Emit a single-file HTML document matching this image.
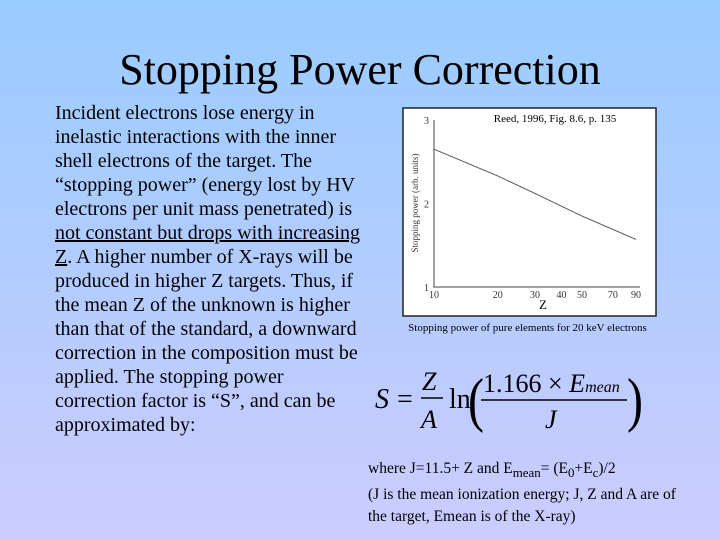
<!DOCTYPE html>
<html><head><meta charset="utf-8"><style>
body{margin:0;width:720px;height:540px;overflow:hidden;background:linear-gradient(#99ccff,#ccccff);font-family:"Liberation Serif",serif;position:relative}
.t{position:absolute;left:0;width:720px;top:44px;text-align:center;font-size:44px;line-height:52px;color:#000}
.b{position:absolute;left:55px;top:101px;width:330px;font-size:20px;line-height:24px;color:#000;white-space:nowrap}
.u{text-decoration:underline}
.cap{position:absolute;left:380px;width:295px;top:322px;font-size:11px;text-align:center}
.w{position:absolute;left:368px;top:458px;font-size:15.5px;line-height:22px;width:350px;white-space:nowrap}
</style></head><body>
<div class="t">Stopping Power Correction</div>
<div class="b">Incident electrons lose energy in<br>inelastic interactions with the inner<br>shell electrons of the target. The<br>“stopping power” (energy lost by HV<br>electrons per unit mass penetrated) is<br><span class="u">not constant but drops with increasing</span><br><span class="u">Z</span>. A higher number of X-rays will be<br>produced in higher Z targets. Thus, if<br>the mean Z of the unknown is higher<br>than that of the standard, a downward<br>correction in the composition must be<br>applied. The stopping power<br>correction factor is “S”, and can be<br>approximated by:</div>
<svg id="chart" style="position:absolute;left:0;top:0" width="720" height="540"></svg>
<div class="cap">Stopping power of pure elements for 20 keV electrons</div>
<svg style="position:absolute;left:365px;top:362px" width="340" height="72" font-family="Liberation Serif">
<text x="10" y="46" font-size="28" font-style="italic">S</text><text x="32" y="46" font-size="28">=</text>
<text x="57" y="28" font-size="26" font-style="italic">Z</text><line x1="56" y1="36" x2="78" y2="36" stroke="#000" stroke-width="1.5"/><text x="56" y="66" font-size="26" font-style="italic">A</text>
<text x="84" y="46" font-size="28">ln</text><text x="103" y="58" font-size="60" transform="scale(0.8,1)" transform-origin="103 46">(</text>
<text x="118" y="30" font-size="26">1.166 × <tspan font-style="italic">E</tspan><tspan font-size="16" font-style="italic">mean</tspan></text>
<line x1="116" y1="38" x2="262" y2="38" stroke="#000" stroke-width="1.5"/><text x="180" y="66" font-size="26" font-style="italic">J</text>
<text x="262" y="58" font-size="60" transform="scale(0.8,1)" transform-origin="262 46">)</text>
</svg>
<div class="w">where J=11.5+ Z and E<sub>mean</sub>= (E<sub>0</sub>+E<sub>c</sub>)/2<br><span style="line-height:22px">(J is the mean ionization energy; J, Z and A are of<br>the target, Emean is of the X-ray)</span></div>
<script>
const zValues=[10,20,30,50,90];
const spValues=[2.65,2.33,2.12,1.85,1.57];
const yTicks=[1,2,3];
const xTicks=[10,20,30,40,50,70,90];
const svg=document.getElementById('chart');const NS='http://www.w3.org/2000/svg';
function mk(t,a){const e=document.createElementNS(NS,t);for(const k in a)e.setAttribute(k,a[k]);svg.appendChild(e);return e;}
const x0=434,x1=636,y0=287,y1=120;
const xs=z=>x0+(Math.log10(z)-1)/(Math.log10(90)-1)*(x1-x0);
const ys=v=>y0-(v-1)/2*(y0-y1);
let r=mk('rect',{x:403,y:108,width:253,height:208,fill:'#fff',stroke:'#222','stroke-width':1.5});

let ax=mk('path',{d:`M${x0} ${y1}V${y0}H${x1+4}`,stroke:'#444',fill:'none','stroke-width':1});

yTicks.forEach(v=>{let t=mk('text',{x:x0-5,y:ys(v)+4,'font-size':10,'text-anchor':'end','font-family':'Liberation Serif',fill:'#333'});t.textContent=v;
});
xTicks.forEach(v=>{let t=mk('text',{x:xs(v),y:y0+11,'font-size':10,'text-anchor':'middle','font-family':'Liberation Serif',fill:'#333'});t.textContent=v;
});
let xt=mk('text',{x:543,y:309,'font-size':13,'text-anchor':'middle','font-family':'Liberation Serif'});xt.textContent='Z';

let yt=mk('text',{x:418,y:203,'font-size':9,'text-anchor':'middle','font-family':'Liberation Serif',transform:'rotate(-90 418 203)',fill:'#333'});yt.textContent='Stopping power (arb. units)';

let ref=mk('text',{x:555,y:122,'font-size':11,'text-anchor':'middle','font-family':'Liberation Serif'});ref.textContent='Reed, 1996, Fig. 8.6, p. 135';

let ln=mk('polyline',{points:zValues.map((z,i)=>xs(z)+','+ys(spValues[i])).join(' '),fill:'none',stroke:'#555','stroke-width':1});

</script>
</body></html>
